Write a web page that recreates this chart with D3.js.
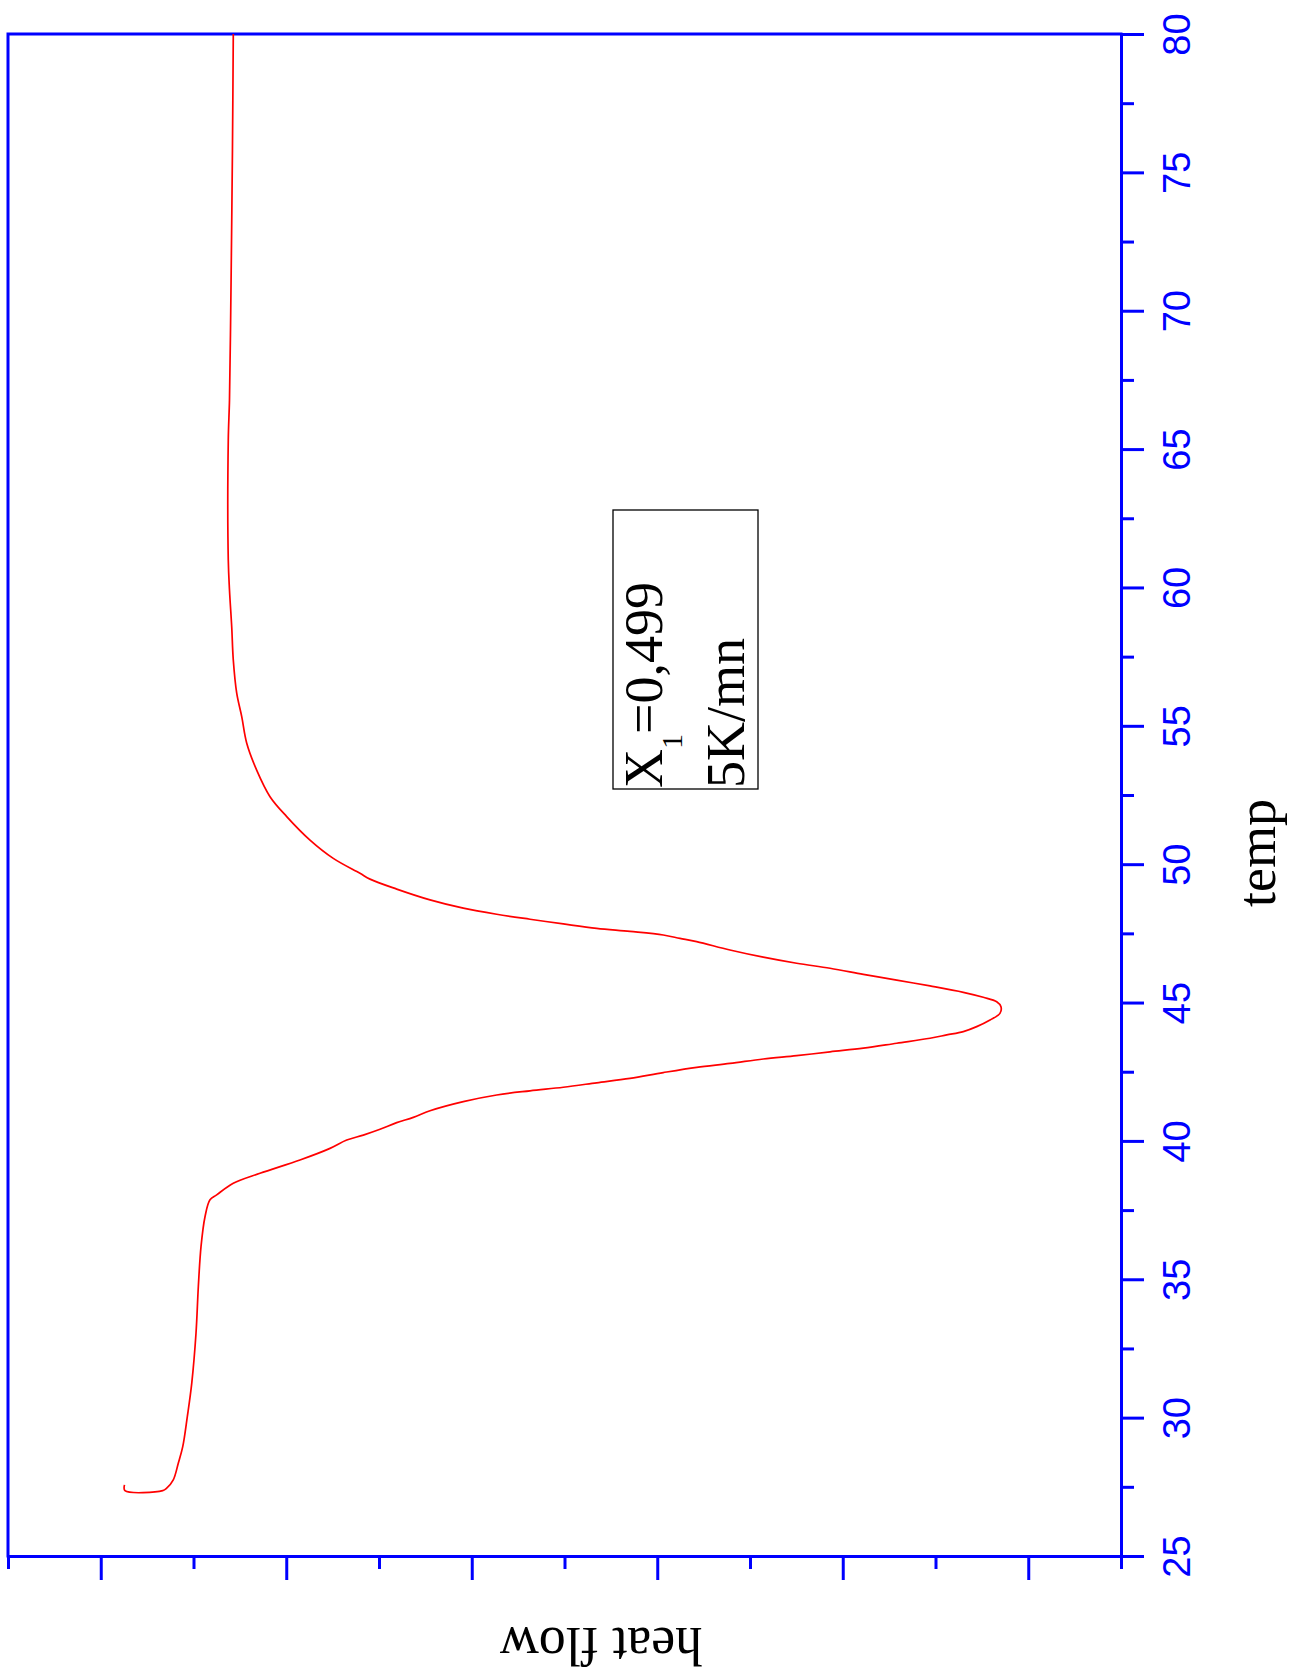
<!DOCTYPE html>
<html>
<head>
<meta charset="utf-8">
<script src="https://cdn.jsdelivr.net/npm/d3@7"></script>
<style>
  html, body { margin: 0; padding: 0; background: #ffffff; }
  svg { display: block; }
</style>
</head>
<body>
<svg id="chart" width="1304" height="1677"></svg>
<script>
// DSC scan: temperature (°C) and heat flow (arbitrary units), in scan order
const temperature = [
  27.57, 27.36, 27.36, 27.45, 27.75, 28.35, 28.95, 30.03, 31.24, 33.05,
  34.73, 36.18, 37.26, 37.87, 38.05, 38.47, 38.83, 39.31, 39.73, 40.03,
  40.21, 40.42, 40.66, 40.85, 41.09, 41.42, 41.66, 41.81, 41.94, 42.10,
  42.26, 42.47, 42.66, 42.80, 42.96, 43.08, 43.22, 43.35, 43.53, 43.71,
  43.83, 43.95, 44.13, 44.37, 44.61, 44.85, 45.03, 45.19, 45.37, 45.60,
  45.81, 46.02, 46.24, 46.42, 46.64, 46.90, 47.20, 47.32, 47.44, 47.57,
  47.68, 47.84, 48.01, 48.19, 48.41, 48.71, 49.10, 49.46, 49.67, 50.21,
  50.87, 51.72, 52.44, 53.40, 54.37, 55.33, 56.18, 57.38, 58.58, 59.91,
  60.99, 65.33, 66.77, 69.30, 72.56, 75.81, 80.00
];
const heatFlow = [
  -2.256, -2.261, -2.668, -2.711, -2.782, -2.836, -2.884, -2.933, -2.981, -3.027,
  -3.052, -3.081, -3.124, -3.178, -3.250, -3.429, -3.717, -4.148, -4.472, -4.652,
  -4.831, -5.011, -5.191, -5.370, -5.550, -5.909, -6.269, -6.628, -6.987, -7.347,
  -7.706, -8.065, -8.425, -8.784, -9.143, -9.503, -9.863, -10.222, -10.582, -10.941,
  -11.121, -11.300, -11.444, -11.588, -11.695, -11.706, -11.660, -11.515, -11.300, -10.941,
  -10.582, -10.222, -9.863, -9.503, -9.143, -8.784, -8.425, -8.245, -8.065, -7.706,
  -7.347, -6.987, -6.628, -6.269, -5.909, -5.550, -5.191, -4.903, -4.795, -4.507,
  -4.256, -4.005, -3.825, -3.681, -3.574, -3.520, -3.466, -3.429, -3.412, -3.388,
  -3.375, -3.375, -3.388, -3.399, -3.410, -3.420, -3.429
];

// Axis ranges and ticks
const tempDomain = [25, 80];
const tempMajorTicks = [25, 30, 35, 40, 45, 50, 55, 60, 65, 70, 75, 80];
const tempMinorTicks = [27.5, 32.5, 37.5, 42.5, 47.5, 52.5, 57.5, 62.5, 67.5, 72.5, 77.5];
const heatDomain = [-13, -1];
const heatMajorTicks = [-12, -10, -8, -6, -4, -2];
const heatMinorTicks = [-13, -11, -9, -7, -5, -3, -1];

// Titles and annotation text
const tempTitle = "temp";
const heatTitle = "heat flow";
const noteSymbol = "X";
const noteIndex = "1";
const noteValue = "=0,499";
const noteRate = "5K/mn";

// Page is drawn turned a quarter turn: temperature runs up the right edge,
// heat flow runs along the bottom and grows to the left.
const plot = { left: 8, right: 1121, top: 34, bottom: 1556 };
const axisBlue = "#0000ff";
const serif = "'Liberation Serif', 'Times New Roman', Times, serif";
const sans = "'Liberation Sans', Arial, Helvetica, sans-serif";

const svg = d3.select("#chart");

const yTemp = d3.scaleLinear().domain(tempDomain).range([plot.bottom, plot.top]);
const xHeat = d3.scaleLinear().domain(heatDomain).range([plot.right, plot.left]);

function styleAxis(g) {
  g.selectAll("path.domain").attr("stroke", axisBlue).attr("stroke-width", 3);
  g.selectAll(".tick line").attr("stroke", axisBlue).attr("stroke-width", 3);
}

// Frame (upper and left edges)
svg.append("path")
  .attr("d", `M${xHeat(heatDomain[1])},${yTemp(tempDomain[0])}` +
             `V${yTemp(tempDomain[1])}H${xHeat(heatDomain[0])}`)
  .attr("fill", "none")
  .attr("stroke", axisBlue)
  .attr("stroke-width", 3)
  .attr("stroke-linecap", "square");

// Temperature axis (right edge)
const tempAxis = svg.append("g")
  .attr("transform", `translate(${plot.right},0)`)
  .call(d3.axisRight(yTemp).tickValues(tempMajorTicks).tickSize(23).tickSizeOuter(0)
        .tickFormat(d3.format("d")));
styleAxis(tempAxis);
tempAxis.selectAll(".tick text")
  .attr("x", null).attr("dy", null)
  .attr("text-anchor", "middle")
  .attr("transform", "translate(69,0) rotate(-90)")
  .attr("fill", axisBlue)
  .attr("font-family", sans)
  .attr("font-size", 38);

const tempMinor = svg.append("g")
  .attr("transform", `translate(${plot.right},0)`)
  .call(d3.axisRight(yTemp).tickValues(tempMinorTicks).tickSize(13).tickFormat(""));
tempMinor.select("path.domain").remove();
styleAxis(tempMinor);

// Heat flow axis (bottom edge, no tick labels)
const heatAxis = svg.append("g")
  .attr("transform", `translate(0,${plot.bottom})`)
  .call(d3.axisBottom(xHeat).tickValues(heatMajorTicks).tickSize(24).tickSizeOuter(0)
        .tickFormat(""));
styleAxis(heatAxis);

const heatMinor = svg.append("g")
  .attr("transform", `translate(0,${plot.bottom})`)
  .call(d3.axisBottom(xHeat).tickValues(heatMinorTicks).tickSize(13).tickFormat(""));
heatMinor.select("path.domain").remove();
styleAxis(heatMinor);

// Axis titles
svg.append("text")
  .attr("transform", "translate(1275,853) rotate(-90)")
  .attr("text-anchor", "middle")
  .attr("font-family", serif)
  .attr("font-size", 54)
  .attr("fill", "#000")
  .text(tempTitle);

svg.append("text")
  .attr("transform", "translate(601,1628) rotate(180)")
  .attr("text-anchor", "middle")
  .attr("font-family", serif)
  .attr("font-size", 54)
  .attr("fill", "#000")
  .text(heatTitle);

// Heat flow curve
const curve = d3.line()
  .x((d, i) => xHeat(heatFlow[i]))
  .y(d => yTemp(d))
  .curve(d3.curveCatmullRom.alpha(0.5));

svg.append("path")
  .datum(temperature)
  .attr("d", curve)
  .attr("fill", "none")
  .attr("stroke", "#ff0000")
  .attr("stroke-width", 1.7)
  .attr("stroke-linejoin", "round");

// Annotation box
const note = svg.append("g");
note.append("rect")
  .attr("x", 613).attr("y", 510)
  .attr("width", 145).attr("height", 279)
  .attr("fill", "none")
  .attr("stroke", "#000")
  .attr("stroke-width", 1.3);

const line1 = note.append("text")
  .attr("transform", "translate(662,788) rotate(-90)")
  .attr("font-family", serif)
  .attr("font-size", 54)
  .attr("fill", "#000");
line1.append("tspan").text(noteSymbol);
line1.append("tspan").attr("font-size", 30).attr("dy", 20).text(noteIndex);
line1.append("tspan").attr("dy", -20).text(noteValue);

note.append("text")
  .attr("transform", "translate(744,788) rotate(-90)")
  .attr("font-family", serif)
  .attr("font-size", 54)
  .attr("fill", "#000")
  .text(noteRate);
</script>
</body>
</html>
